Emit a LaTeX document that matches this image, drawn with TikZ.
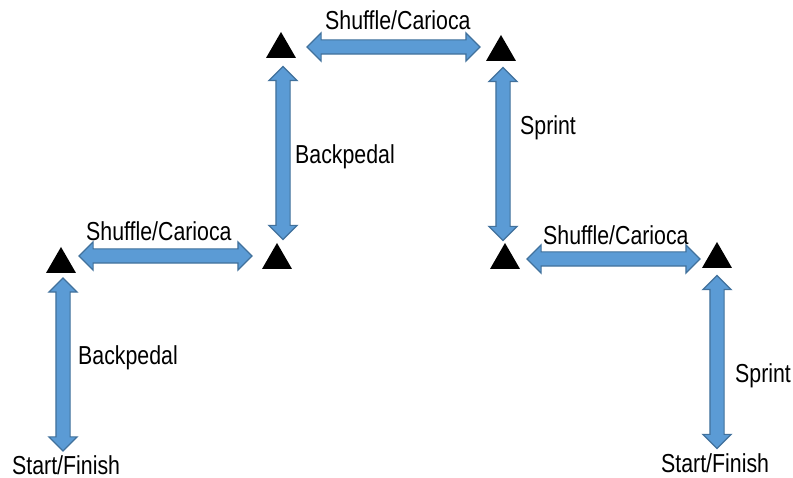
\documentclass[tikz,border=0pt]{standalone}
\usepackage{fontspec}
\usepackage{tikz}
\usetikzlibrary{shapes.geometric, shapes.arrows}
\newfontfamily\narrowfont[FakeStretch=0.82]{Liberation Sans}
\definecolor{arrowfill}{HTML}{5B9BD5}
\definecolor{arrowline}{HTML}{41719C}
\tikzset{
  cone/.style={regular polygon, regular polygon sides=3, fill=black, minimum size=34.6pt, inner sep=0pt},
  blockarrow/.style={shape=double arrow, draw=arrowline, fill=arrowfill, line width=1.2pt, double arrow head extend=7pt, minimum height=173pt, inner xsep=0pt, inner ysep=6.5pt},
  lbl/.style={font=\narrowfont\fontsize{26}{30}\selectfont, inner sep=0pt, anchor=base west}
}
\begin{document}
\begin{tikzpicture}[x=1pt, y=-1pt]
\useasboundingbox (0, 0) rectangle (793, 478);
\node [cone] (cone1) at (61, 264.3) {};
\node [cone] (cone2) at (277, 260.3) {};
\node [cone] (cone3) at (281, 49.3) {};
\node [cone] (cone4) at (501, 52.3) {};
\node [cone] (cone5) at (505, 260.3) {};
\node [cone] (cone6) at (717, 259.3) {};
\node [blockarrow, rotate=90] (back1) at (63, 364.5) {};
\node [blockarrow] (shuffle1) at (165.5, 256) {};
\node [blockarrow, rotate=90] (back2) at (283, 153) {};
\node [blockarrow] (shuffle2) at (393.5, 47) {};
\node [blockarrow, rotate=90] (sprint1) at (503, 154) {};
\node [blockarrow] (shuffle3) at (613.5, 259) {};
\node [blockarrow, rotate=90] (sprint2) at (717, 362) {};
\node [lbl] (shuffletxt2) at (325, 30) {Shuffle/Carioca};
\node [lbl] (shuffletxt1) at (86, 241) {Shuffle/Carioca};
\node [lbl] (shuffletxt3) at (543, 245) {Shuffle/Carioca};
\node [lbl] (backtxt2) at (295, 164) {Backpedal};
\node [lbl] (backtxt1) at (78, 365) {Backpedal};
\node [lbl] (sprinttxt1) at (520, 135) {Sprint};
\node [lbl] (sprinttxt2) at (735, 383) {Sprint};
\node [lbl] (starttxt1) at (12, 474) {Start/Finish};
\node [lbl] (starttxt2) at (661, 472) {Start/Finish};
\end{tikzpicture}
\end{document}
